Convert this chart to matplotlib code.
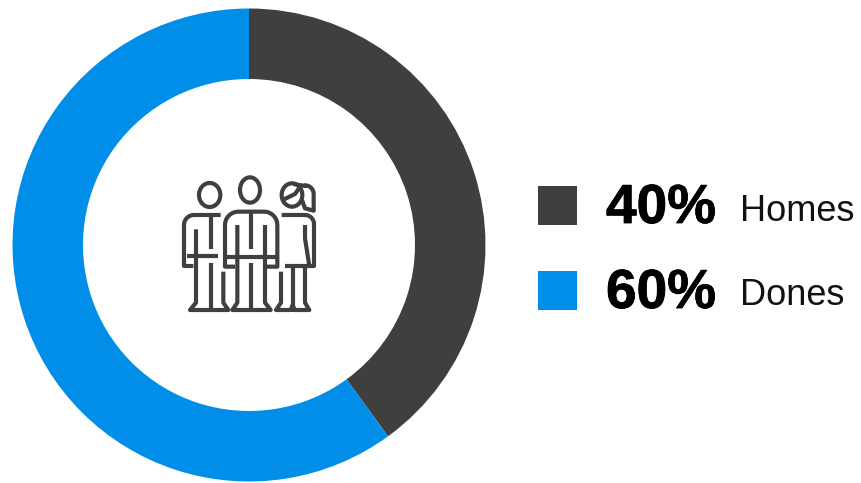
import numpy as np
import matplotlib
matplotlib.use("Agg")
import matplotlib.pyplot as plt
import matplotlib.patheffects as pe
from matplotlib.patches import Rectangle, Ellipse

labels = ["Homes", "Dones"]
values = [40, 60]
colors = ["#3f3f3e", "#008ee9"]

W, H = 861, 483
fig = plt.figure(figsize=(W / 100, H / 100), dpi=100)
ax = fig.add_axes([0, 0, 1, 1])

# donut
ax.pie(values, colors=colors, startangle=90, counterclock=False,
       center=(249, H - 245), radius=236.5,
       wedgeprops=dict(width=70.5, linewidth=0))
ax.set_xlim(0, W)
ax.set_ylim(0, H)
ax.set_aspect("equal")
ax.axis("off")

# legend
swatch_y = [186, 271]
pct_base = [223, 308]
name_base = [221, 305]
for i in range(2):
    ax.add_patch(Rectangle((538, H - swatch_y[i] - 39), 39, 39, color=colors[i], lw=0))
    ax.text(606, H - pct_base[i], f"{values[i]}%", family="Liberation Sans",
            weight="bold", fontsize=39.6, color="black", va="baseline",
            path_effects=[pe.withStroke(linewidth=0.6, foreground="black")])
    ax.text(740, H - name_base[i], labels[i], family="Liberation Sans",
            fontsize=26, color="#111111", va="baseline")


# icon, coordinates taken from a 3x crop starting at (170,170)
def px(x, y):
    return 170 + np.asarray(x) / 3, H - (170 + np.asarray(y) / 3)


icon = "#3f3f3e"
LW = 3.0


def stroke(pts):
    xs, ys = zip(*pts)
    X, Y = px(xs, ys)
    ax.plot(X, Y, color=icon, lw=LW, solid_capstyle="butt", solid_joinstyle="round")


def head(x, y, w, h):
    X, Y = px(x, y)
    ax.add_patch(Ellipse((X, Y), w / 3, h / 3, fill=False, ec=icon, lw=LW))


def arc(cx, cy, r, a0, a1):
    t = np.radians(np.linspace(a0, a1, 12))
    return list(zip(cx + r * np.cos(t), cy + r * np.sin(t)))


# left man
head(119, 75, 64, 72)
stroke([(152, 135)] + arc(72, 165, 30, 270, 180) + [(42, 288), (70, 288)])
stroke([(50, 258), (145, 258)])
stroke([(122, 135), (122, 238)])
stroke([(78, 178), (78, 398), (60, 420), (175, 420), (160, 398), (160, 305)])
stroke([(122, 280), (122, 420)])

# middle man
head(240, 60, 60, 76)
stroke([(195, 290), (165, 290)] + arc(205, 165, 40, 180, 270) + arc(282, 165, 40, 270, 360)
       + [(322, 290), (290, 290)])
stroke([(165, 262), (322, 262)])
stroke([(202, 165), (202, 398), (187, 420), (302, 420), (285, 398), (285, 165)])
stroke([(243, 130), (243, 238)])
stroke([(243, 280), (243, 420)])

# woman
head(366, 75, 62, 70)
stroke([(342, 88), (375, 72), (392, 48)])
stroke([(370, 42), (405, 48)] + arc(405, 72, 26, 270, 360) + [(431, 122), (405, 115), (396, 90)])
stroke([(335, 135), (405, 135)] + arc(405, 162, 27, 270, 360) + [(432, 288), (345, 288)])
stroke([(405, 165), (405, 205), (418, 288)])
stroke([(333, 305), (333, 398), (318, 420), (362, 420), (368, 405), (374, 420), (418, 420), (405, 398), (405, 288)])
stroke([(368, 288), (368, 425)])

fig.savefig("out.png", dpi=100, facecolor="white")
